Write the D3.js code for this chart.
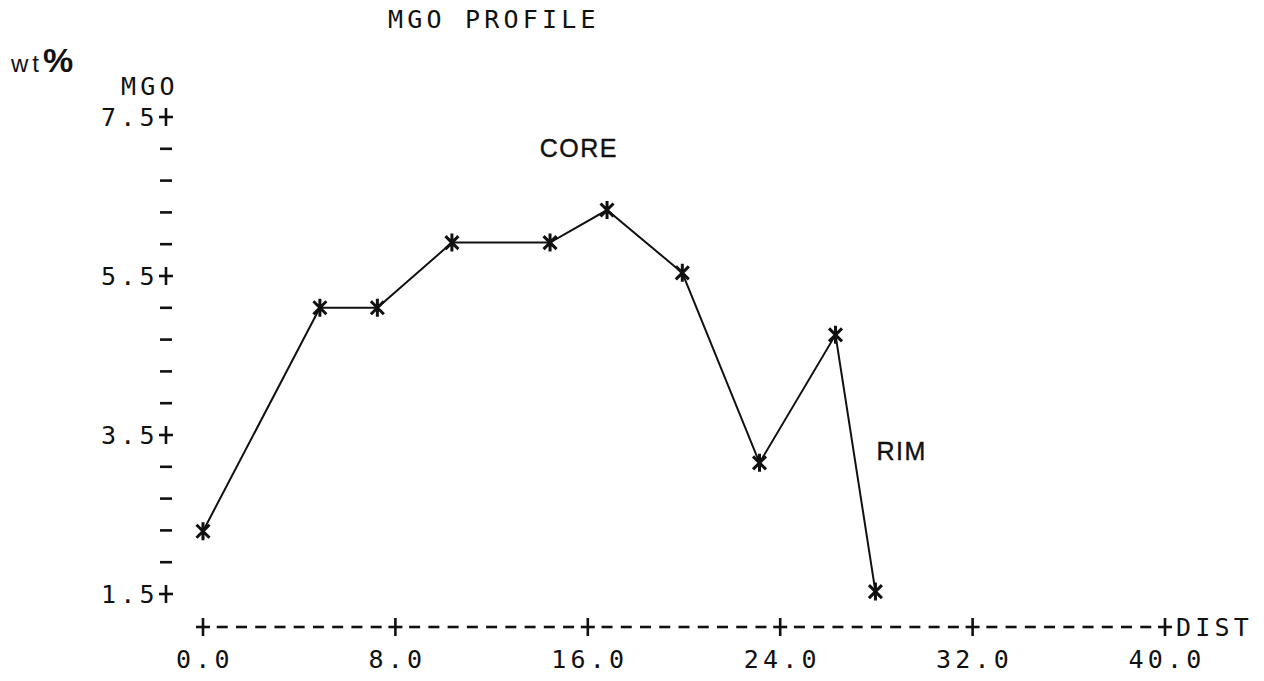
<!DOCTYPE html>
<html>
<head>
<meta charset="utf-8">
<script src="https://cdn.jsdelivr.net/npm/d3@7"></script>
<style>
  html, body { margin: 0; padding: 0; background: #fff; }
  svg { display: block; }
  .mono { font-family: "DejaVu Sans Mono", monospace; font-size: 25px; letter-spacing: 4.2px; fill: #111; }
  .sans { font-family: "Liberation Sans", Arial, sans-serif; fill: #111; }
</style>
</head>
<body>
<svg id="chart" width="1264" height="681"></svg>
<script>
// data
const dist = [0, 4.86, 7.25, 10.35, 14.43, 16.8, 19.93, 23.14, 26.3, 27.96];
const mgo = [2.29, 5.1, 5.1, 5.92, 5.92, 6.33, 5.54, 3.15, 4.76, 1.53];
const xTicks = [0, 8, 16, 24, 32, 40];
const yTicks = [1.5, 3.5, 5.5, 7.5];
const notes = [{ text: "CORE", d: 14.0, v: 7.0 }, { text: "RIM", d: 28.0, v: 3.18 }];

const svg = d3.select("#chart");
const ink = "#111";

// SCALES
const xScale = d3.scaleLinear().domain([0, 40]).range([203, 1165]);
const yScale = d3.scaleLinear().domain([1.5, 7.5]).range([594, 117]);
const axisY = 627;
const axisX = 166;

// a "+" drawn like the printer glyph
const plus = (g, x, y) => {
  g.append("line").attr("x1", x - 7).attr("x2", x + 7).attr("y1", y).attr("y2", y);
  g.append("line").attr("x1", x).attr("x2", x).attr("y1", y - 9).attr("y2", y + 9);
};

// titles
svg.append("text").attr("class", "mono").attr("x", 388).attr("y", 28).text("MGO PROFILE");
const wt = svg.append("text").attr("class", "sans").attr("x", 11).attr("y", 72);
wt.append("tspan").style("font-size", "24px").style("letter-spacing", "4px").text("wt");
wt.append("tspan").style("font-size", "34px").style("font-weight", "bold").text("%");
svg.append("text").attr("class", "mono").attr("x", 121).attr("y", 95).text("MGO");

// Y AXIS
const yAxis = svg.append("g").attr("stroke", ink).attr("stroke-width", 2.6);
yTicks.forEach(v => plus(yAxis, axisX, yScale(v)));
d3.range(1.5, 7.5, 0.4).filter(v => !yTicks.some(t => Math.abs(t - v) < 1e-6)).forEach(v => {
  yAxis.append("line")
    .attr("x1", axisX - 6).attr("x2", axisX + 6)
    .attr("y1", yScale(v)).attr("y2", yScale(v));
});
svg.selectAll(".ylab")
  .data(yTicks)
  .join("text")
  .attr("class", "mono ylab")
  .attr("x", 101)
  .attr("y", v => yScale(v) + 9)
  .text(v => v.toFixed(1));

// X AXIS
const xAxis = svg.append("g").attr("stroke", ink).attr("stroke-width", 2.6);
xTicks.forEach(v => plus(xAxis, xScale(v), axisY));
const cell = (xScale(8) - xScale(0)) / 10;
d3.range(xTicks.length - 1).forEach(i => {
  d3.range(1, 10).forEach(k => {
    const cx = xScale(xTicks[i]) + cell * k;
    xAxis.append("line")
      .attr("x1", cx - 5.5).attr("x2", cx + 5.5)
      .attr("y1", axisY).attr("y2", axisY);
  });
});
svg.selectAll(".xlab")
  .data(xTicks)
  .join("text")
  .attr("class", "mono xlab")
  .attr("x", v => xScale(v) + 2)
  .attr("y", 668)
  .attr("text-anchor", "middle")
  .text(v => v.toFixed(1));
svg.append("text").attr("class", "mono").attr("x", xScale(40) + 11).attr("y", axisY + 9).text("DIST");

// profile line
const pts = dist.map((d, i) => [xScale(d), yScale(mgo[i])]);
svg.append("path")
  .attr("d", d3.line()(pts))
  .attr("fill", "none")
  .attr("stroke", ink)
  .attr("stroke-width", 2);

// asterisk markers
svg.selectAll(".star")
  .data(pts)
  .join("path")
  .attr("class", "star")
  .attr("transform", p => `translate(${p[0]},${p[1]})`)
  .attr("d", "M0,-9V9M-6.5,-6.5L6.5,6.5M-6.5,6.5L6.5,-6.5")
  .attr("stroke", ink)
  .attr("stroke-width", 3)
  .attr("fill", "none");

// annotations
svg.selectAll(".note")
  .data(notes)
  .join("text")
  .attr("class", "sans note")
  .attr("x", n => xScale(n.d))
  .attr("y", n => yScale(n.v))
  .style("font-size", "25px")
  .style("letter-spacing", "1.5px")
  .style("stroke", ink)
  .style("stroke-width", 0.4)
  .text(n => n.text);
</script>
</body>
</html>
